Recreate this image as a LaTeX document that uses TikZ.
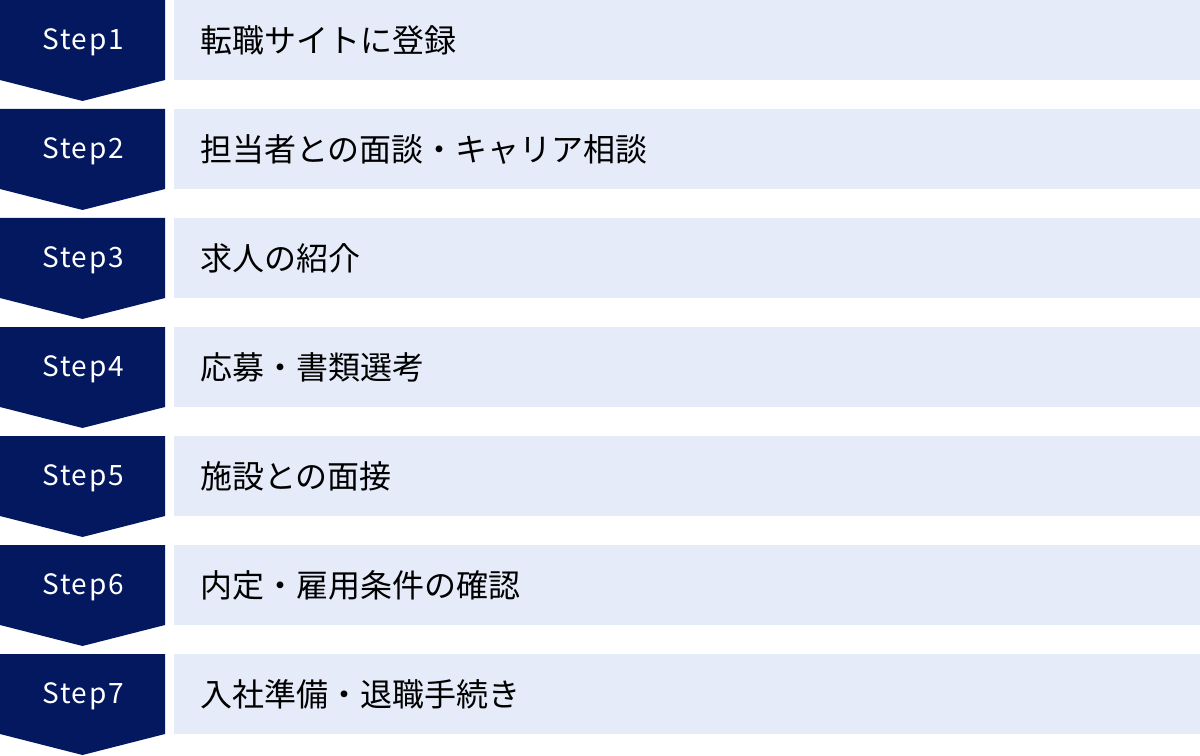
\documentclass[tikz,border=0pt]{standalone}
\usepackage{fontspec}
\usepackage{tikz}
\usetikzlibrary{positioning}
\newfontfamily\jpfont{Noto Sans CJK JP}
\newfontfamily\stepfont[LetterSpace=6]{Noto Sans CJK JP}
\definecolor{stepnavy}{RGB}{4,24,96}
\definecolor{itemblue}{RGB}{229,235,248}
\tikzset{
  steplabel/.style={text=white, font=\stepfont\fontsize{21}{24}\selectfont, inner sep=0pt},
  itembox/.style={fill=itemblue, anchor=north west, minimum width=769.5pt, minimum height=60pt,
    text width=730.5pt, inner xsep=19.5pt, inner ysep=0pt, align=left,
    font=\jpfont\fontsize{24}{28}\selectfont},
}

\begin{document}
\begin{tikzpicture}[x=0.75pt, y=0.75pt]
\useasboundingbox (0,0) rectangle (1200,-756);

% Steps
\foreach \txt [count=\i, evaluate=\i as \y using (\i-1)*109] in
  {転職サイトに登録, 担当者との面談・キャリア相談, 求人の紹介, 応募・書類選考,
   施設との面接, 内定・雇用条件の確認, 入社準備・退職手続き}
{
  \fill[stepnavy] (0,-\y) -- (165,-\y) -- (165,-\y-80) -- (82.5,-\y-101) -- (0,-\y-80) -- cycle;
  \node[steplabel] (step\i) at (83,-\y-42.5) {Step\i};
  \node[itembox] (item\i) at (174,-\y) {\txt};
}
\end{tikzpicture}
\end{document}
